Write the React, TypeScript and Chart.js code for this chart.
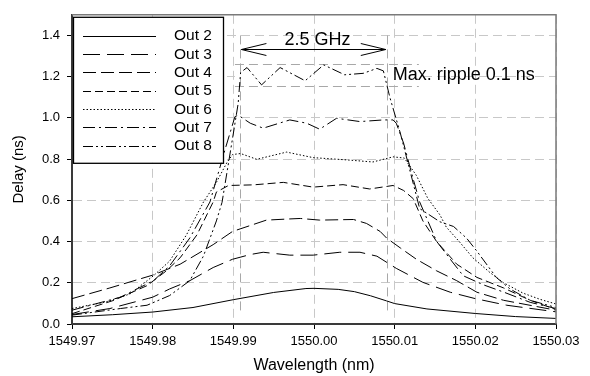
import React, { useEffect, useRef } from "react";
import { Chart, registerables } from "chart.js";

Chart.register(...registerables);

// ---- axis ticks ----
const xTicks = [1549.97, 1549.98, 1549.99, 1550.0, 1550.01, 1550.02, 1550.03];
const yTicks = [0, 0.2, 0.4, 0.6, 0.8, 1.0, 1.2, 1.4];

// ---- series ----
const seriesNames = ["Out 2", "Out 3", "Out 4", "Out 5", "Out 6", "Out 7", "Out 8"];

const out2X = [1549.97, 1549.975, 1549.98, 1549.985, 1549.99, 1549.995, 1549.999, 1550.0, 1550.003, 1550.005, 1550.007, 1550.009, 1550.01, 1550.014, 1550.02, 1550.025, 1550.03];
const out2Y = [0.035, 0.045, 0.058, 0.08, 0.118, 0.153, 0.172, 0.173, 0.168, 0.157, 0.137, 0.112, 0.099, 0.073, 0.051, 0.036, 0.027];

const out3X = [1549.97, 1549.9747, 1549.98, 1549.9821, 1549.9846, 1549.9875, 1549.9899, 1549.9921, 1549.9937, 1549.997, 1549.9999, 1550.0032, 1550.0057, 1550.0078, 1550.0102, 1550.0135, 1550.0169, 1550.02, 1550.0239, 1550.03];
const out3Y = [0.046, 0.075, 0.13, 0.17, 0.21, 0.274, 0.314, 0.337, 0.348, 0.334, 0.334, 0.348, 0.348, 0.329, 0.27, 0.202, 0.154, 0.123, 0.091, 0.059];

const out4X = [1549.97, 1549.9747, 1549.98, 1549.9834, 1549.9875, 1549.9899, 1549.9941, 1549.9966, 1549.9983, 1550.0007, 1550.0049, 1550.0065, 1550.0082, 1550.009, 1550.0107, 1550.0127, 1550.0152, 1550.0177, 1550.0202, 1550.0235, 1550.03];
const out4Y = [0.123, 0.175, 0.237, 0.29, 0.385, 0.449, 0.504, 0.509, 0.512, 0.504, 0.507, 0.488, 0.449, 0.417, 0.369, 0.314, 0.258, 0.21, 0.154, 0.115, 0.067];

const out5X = [1549.97, 1549.9752, 1549.9793, 1549.9817, 1549.9834, 1549.9855, 1549.9875, 1549.9879, 1549.9894, 1549.9925, 1549.9962, 1549.9999, 1550.0036, 1550.0069, 1550.0098, 1550.0111, 1550.0123, 1550.0135, 1550.0152, 1550.0177, 1550.0202, 1550.0235, 1550.0268, 1550.03];
const out5Y = [0.05, 0.115, 0.186, 0.258, 0.321, 0.433, 0.592, 0.64, 0.672, 0.675, 0.687, 0.664, 0.676, 0.655, 0.672, 0.648, 0.608, 0.5, 0.4, 0.29, 0.226, 0.175, 0.115, 0.07];

const out6X = [1549.97, 1549.9742, 1549.9772, 1549.9801, 1549.9821, 1549.9842, 1549.9863, 1549.9879, 1549.9892, 1549.9899, 1549.9909, 1549.9929, 1549.9966, 1549.9999, 1550.0041, 1550.0073, 1550.0098, 1550.0112, 1550.0127, 1550.0141, 1550.0156, 1550.0164, 1550.018, 1550.0197, 1550.0218, 1550.0235, 1550.0259, 1550.028, 1550.03];
const out6Y = [0.075, 0.107, 0.146, 0.234, 0.305, 0.433, 0.592, 0.687, 0.783, 0.822, 0.827, 0.799, 0.834, 0.807, 0.796, 0.786, 0.811, 0.805, 0.72, 0.61, 0.53, 0.47, 0.4, 0.321, 0.25, 0.2, 0.15, 0.12, 0.097];

const out7X = [1549.97, 1549.976, 1549.9801, 1549.9821, 1549.9846, 1549.9871, 1549.989, 1549.9902, 1549.9906, 1549.9921, 1549.9937, 1549.997, 1549.9991, 1550.0007, 1550.0028, 1550.0057, 1550.0086, 1550.0098, 1550.0102, 1550.0111, 1550.0123, 1550.0131, 1550.0152, 1550.0169, 1550.0185, 1550.021, 1550.0235, 1550.0268, 1550.03];
const out7Y = [0.067, 0.13, 0.21, 0.282, 0.417, 0.592, 0.85, 1.006, 1.013, 0.974, 0.95, 0.99, 0.974, 0.945, 0.998, 0.982, 0.99, 0.99, 0.974, 0.878, 0.703, 0.592, 0.401, 0.314, 0.234, 0.19, 0.155, 0.105, 0.075];

const out8X = [1549.97, 1549.976, 1549.9793, 1549.9821, 1549.9846, 1549.9863, 1549.9879, 1549.9886, 1549.9899, 1549.9906, 1549.9909, 1549.9917, 1549.9935, 1549.9958, 1549.9989, 1550.0012, 1550.0038, 1550.0061, 1550.0078, 1550.0086, 1550.0094, 1550.0107, 1550.0131, 1550.0156, 1550.0173, 1550.0189, 1550.0202, 1550.0226, 1550.0243, 1550.0268, 1550.03];
const out8Y = [0.043, 0.075, 0.091, 0.138, 0.21, 0.33, 0.5, 0.59, 0.9, 1.07, 1.22, 1.244, 1.16, 1.244, 1.18, 1.257, 1.209, 1.216, 1.24, 1.228, 1.1, 0.926, 0.56, 0.496, 0.473, 0.417, 0.353, 0.226, 0.17, 0.115, 0.08];

const seriesX = [out2X, out3X, out4X, out5X, out6X, out7X, out8X];
const seriesY = [out2Y, out3Y, out4Y, out5Y, out6Y, out7Y, out8Y];
const seriesDash: number[][] = [[], [17, 7], [13, 5], [8, 4], [1.5, 2], [12, 4, 2, 4], [10, 3, 2, 3, 2, 3]];

// ---- annotations ----
const bandEdges = [1549.9908, 1550.009];
const bandLineTop = 1.4;
const bandLineBottom = 0.057;
const rippleLevels = [1.26, 1.155];
const rippleRange = [1549.9902, 1550.013];
const arrowLevel = 1.332;
const arrowRange = [1549.991, 1550.0089];
const bandLabel = "2.5 GHz";
const rippleLabel = "Max. ripple 0.1 ns";

const FONT = "'Liberation Sans', Arial, Helvetica, sans-serif";

const decoPlugin = {
  id: "deco",
  beforeDatasetsDraw(chart: any) {
    const { ctx, scales } = chart;
    const x = scales.x, y = scales.y;
    ctx.save();
    const xa = x.getPixelForValue(rippleRange[0]);
    const xb = x.getPixelForValue(rippleRange[1]);
    const y12 = Math.round(y.getPixelForValue(1.2));
    ctx.fillStyle = "#ffffff";
    ctx.fillRect(xa, y12 - 2, xb - xa, 4);
    ctx.strokeStyle = "#a8a8a8";
    ctx.lineWidth = 1;
    ctx.setLineDash([9, 5]);
    rippleLevels.forEach((lv) => {
      const py = Math.round(y.getPixelForValue(lv)) + 0.5;
      ctx.beginPath();
      ctx.moveTo(xa, py);
      ctx.lineTo(xb, py);
      ctx.stroke();
    });
    bandEdges.forEach((bx) => {
      const px = Math.round(x.getPixelForValue(bx)) + 0.5;
      ctx.beginPath();
      ctx.moveTo(px, y.getPixelForValue(bandLineTop));
      ctx.lineTo(px, y.getPixelForValue(bandLineBottom));
      ctx.stroke();
    });
    ctx.restore();
  },
  afterDatasetsDraw(chart: any) {
    const { ctx, scales, chartArea } = chart;
    const x = scales.x, y = scales.y;
    ctx.save();
    // double arrow
    const ay = Math.round(y.getPixelForValue(arrowLevel)) + 0.5;
    const x1 = x.getPixelForValue(arrowRange[0]);
    const x2 = x.getPixelForValue(arrowRange[1]);
    ctx.strokeStyle = "#000";
    ctx.lineWidth = 1;
    ctx.setLineDash([]);
    ctx.beginPath();
    ctx.moveTo(x1, ay);
    ctx.lineTo(x2, ay);
    ctx.moveTo(x1 + 25, ay - 6);
    ctx.lineTo(x1, ay);
    ctx.lineTo(x1 + 25, ay + 6);
    ctx.moveTo(x2 - 25, ay - 6);
    ctx.lineTo(x2, ay);
    ctx.lineTo(x2 - 25, ay + 6);
    ctx.stroke();
    // texts
    ctx.fillStyle = "#000";
    ctx.font = `18px ${FONT}`;
    ctx.textAlign = "center";
    ctx.textBaseline = "alphabetic";
    ctx.fillText(bandLabel, (x1 + x2) / 2 + 4, ay - 5);
    ctx.textAlign = "left";
    ctx.fillText(rippleLabel, x2 + 7, y.getPixelForValue(1.2) + 3.5);

    // legend
    const lx = chartArea.left + 1;
    const ly = chartArea.top + 2;
    const lw = 150;
    const lh = 146;
    ctx.fillStyle = "#fff";
    ctx.fillRect(lx, ly, lw, lh);
    ctx.strokeStyle = "#000";
    ctx.lineWidth = 1.3;
    ctx.strokeRect(lx + 0.5, ly + 0.5, lw, lh);
    ctx.lineWidth = 1;
    ctx.font = `15.5px ${FONT}`;
    ctx.textBaseline = "middle";
    ctx.textAlign = "left";
    seriesNames.forEach((name, i) => {
      const ry = ly + 18.7 + i * 18.35;
      ctx.setLineDash(seriesDash[i]);
      ctx.beginPath();
      ctx.moveTo(lx + 10, Math.round(ry) + 0.5);
      ctx.lineTo(lx + 83, Math.round(ry) + 0.5);
      ctx.stroke();
      ctx.setLineDash([]);
      ctx.fillStyle = "#000";
      ctx.fillText(name, lx + 101, ry + 0.5);
    });
    ctx.restore();
  },
  afterDraw(chart: any) {
    const { ctx, chartArea } = chart;
    ctx.save();
    ctx.strokeStyle = "#7a7a7a";
    ctx.lineWidth = 1.5;
    ctx.beginPath();
    ctx.moveTo(chartArea.left, chartArea.top);
    ctx.lineTo(chartArea.right, chartArea.top);
    ctx.lineTo(chartArea.right, chartArea.bottom);
    ctx.stroke();
    ctx.restore();
  },
};

export default function App() {
  const canvasRef = useRef<HTMLCanvasElement | null>(null);

  useEffect(() => {
    document.body.style.margin = "0";
    const canvas = canvasRef.current;
    if (!canvas) return;
    const datasets = seriesNames.map((name, i) => ({
      label: name,
      data: seriesX[i].map((xv, j) => ({ x: xv, y: seriesY[i][j] })),
      borderColor: "#000",
      borderWidth: 1,
      borderDash: seriesDash[i],
      pointRadius: 0,
      fill: false,
      tension: 0,
    }));
    const chart = new Chart(canvas, {
      type: "line",
      data: { datasets },
      plugins: [decoPlugin],
      options: {
        responsive: false,
        animation: false,
        layout: { padding: { left: 0, top: 10, right: 34, bottom: 0 } },
        plugins: { legend: { display: false }, tooltip: { enabled: false } },
        scales: {
          x: {
            type: "linear",
            min: 1549.97,
            max: 1550.03,
            afterBuildTicks: (scale: any) => {
              scale.ticks = xTicks.map((v) => ({ value: v }));
            },
            afterFit: (scale: any) => {
              scale.height = 52;
            },
            ticks: {
              autoSkip: false,
              maxRotation: 0,
              padding: 5,
              color: "#000",
              font: { family: FONT, size: 13 },
              callback: (v: any) => Number(v).toFixed(2),
            },
            grid: { color: "#c8c8c8", lineWidth: 1, tickColor: "#000", tickLength: 5, tickWidth: 1 },
            border: { display: true, color: "#3a3a3a", width: 2, dash: [9, 5] },
            title: {
              display: true,
              text: "Wavelength (nm)",
              color: "#000",
              font: { family: FONT, size: 16 },
              padding: { top: 0, bottom: 1 },
            },
          },
          y: {
            type: "linear",
            min: 0,
            max: 1.5,
            afterBuildTicks: (scale: any) => {
              scale.ticks = yTicks.map((v) => ({ value: v }));
            },
            afterFit: (scale: any) => {
              scale.width = 72;
            },
            ticks: {
              autoSkip: false,
              padding: 7,
              color: "#000",
              font: { family: FONT, size: 13 },
              callback: (v: any) => Number(v).toFixed(1),
            },
            grid: { color: "#c8c8c8", lineWidth: 1, tickColor: "#000", tickLength: 5, tickWidth: 1 },
            border: { display: true, color: "#3a3a3a", width: 2, dash: [9, 5] },
            title: {
              display: true,
              text: "Delay (ns)",
              color: "#000",
              font: { family: FONT, size: 15 },
              padding: { top: 10, bottom: 0 },
            },
          },
        },
      } as any,
    });
    return () => chart.destroy();
  }, []);

  return (
    <div style={{ position: "fixed", left: 0, top: 0, width: 590, height: 376, background: "#fff" }}>
      <canvas ref={canvasRef} width={590} height={376} />
    </div>
  );
}
